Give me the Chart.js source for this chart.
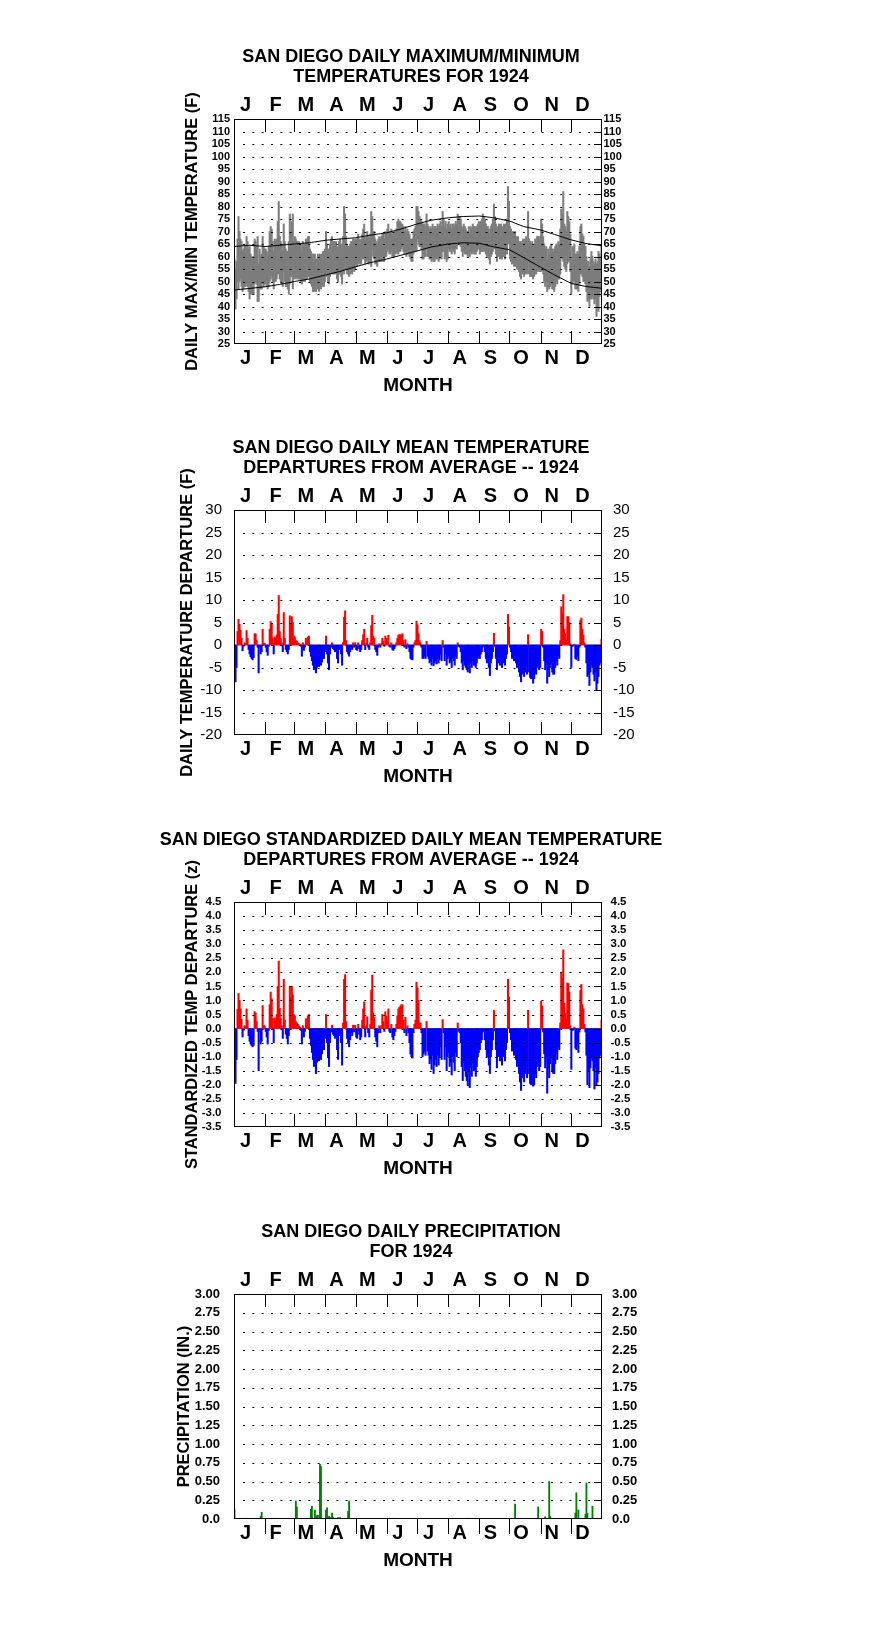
<!DOCTYPE html>
<html>
<head>
<meta charset="utf-8">
<title>San Diego 1924</title>
<script src="https://cdn.jsdelivr.net/npm/chart.js@4.4.1/dist/chart.umd.min.js"></script>
<style>
  body { margin: 0; background: #fff; }
  #wrap { position: relative; width: 876px; height: 1634px; }
  canvas { position: absolute; left: 0; }
</style>
</head>
<body>
<div id="wrap">
  <canvas id="c1" width="822" height="392" style="top:34px"></canvas>
  <canvas id="c2" width="822" height="392" style="top:425px"></canvas>
  <canvas id="c3" width="822" height="392" style="top:817px"></canvas>
  <canvas id="c4" width="822" height="392" style="top:1209px"></canvas>
</div>
<script>
var FONT = "'Liberation Sans', Arial, Helvetica, sans-serif";
Chart.defaults.font.family = FONT;
Chart.defaults.color = '#000';

var months = ['J', 'F', 'M', 'A', 'M', 'J', 'J', 'A', 'S', 'O', 'N', 'D'];
var monthDays = [31, 29, 31, 30, 31, 30, 31, 31, 30, 31, 30, 31];

// daily max / min (F), one row per month
var tmax = [
  59,55,58,67,76,70,67,66,62,63,64,64,68,66,63,64,61,60,59,60,67,66,64,68,57,63,60,61,68,64,63,
  63,62,61,64,70,72,71,66,62,67,66,67,74,82,68,66,65,62,73,66,63,62,62,66,77,70,74,77,66,
  68,67,66,66,66,65,65,62,66,64,65,67,66,68,68,63,62,61,61,59,61,58,59,61,60,61,60,61,62,62,63,
  70,65,63,61,65,67,68,66,66,65,66,64,63,66,67,65,63,68,80,77,68,65,64,64,65,66,66,67,66,67,
  67,67,69,67,66,67,69,71,73,67,68,70,68,67,69,78,76,70,70,67,66,65,67,68,67,68,69,69,67,70,69,
  71,73,70,70,71,69,69,70,70,71,74,75,74,74,73,73,72,70,72,70,71,70,69,67,67,67,70,71,72,80,
  80,78,76,75,74,73,73,73,72,77,73,72,71,72,71,73,71,72,72,71,73,72,73,74,72,78,75,72,74,71,73,
  74,72,73,71,73,73,72,74,73,77,76,76,75,72,71,73,72,71,70,70,72,69,72,71,73,72,72,71,72,73,74,
  73,74,75,77,76,75,73,72,72,71,69,72,73,75,81,76,73,71,72,73,72,73,71,72,73,72,73,75,88,82,
  72,71,69,70,69,70,68,67,68,66,66,65,66,67,66,67,68,66,78,67,66,65,66,64,65,67,66,68,68,67,68,
  75,73,68,65,63,64,59,63,61,64,65,63,62,63,64,65,64,66,65,71,79,77,86,73,72,70,78,76,74,69,
  59,64,64,65,61,61,62,61,64,72,73,69,68,65,64,60,58,58,56,59,62,60,58,57,59,57,58,62,61,60,65
];
var tmin = [
  44,39,43,50,47,50,51,48,46,47,48,48,49,48,46,43,45,45,45,45,49,50,49,42,42,47,47,47,50,48,49,
  49,48,47,48,50,51,52,50,47,50,50,51,53,53,51,50,49,48,54,50,48,48,47,45,49,52,52,47,51,
  52,51,52,51,51,51,50,49,51,50,50,52,51,52,52,50,49,48,46,46,47,46,47,48,46,49,47,48,49,48,50,
  55,52,50,49,52,53,54,53,53,53,54,51,50,53,53,52,49,54,53,59,55,53,53,52,53,54,53,55,54,55,
  57,56,58,57,57,57,59,59,60,57,58,59,57,57,58,56,63,60,59,57,57,56,58,58,58,58,60,58,58,60,60,
  62,63,61,61,62,60,60,60,61,62,61,61,62,62,63,64,62,61,62,60,61,61,60,59,58,58,61,62,62,62,
  67,65,64,64,63,59,59,60,60,63,60,60,59,59,58,59,58,58,59,59,59,58,59,60,59,62,62,59,60,58,59,
  63,62,62,61,63,62,61,63,63,66,65,65,64,62,60,62,61,61,61,60,61,60,62,61,62,61,61,61,62,63,63,
  61,62,62,62,63,62,61,60,61,59,57,60,61,62,64,63,61,58,60,60,59,61,59,60,60,59,61,61,65,66,
  59,58,57,58,56,57,56,55,55,54,52,51,53,54,52,53,55,53,58,53,52,52,52,51,52,53,53,54,55,54,54,
  54,55,53,50,48,50,46,48,47,48,49,47,47,46,48,50,49,51,51,53,60,59,58,56,55,54,57,58,58,54,
  45,49,50,50,47,47,47,46,49,53,53,52,50,50,49,46,42,43,40,43,43,44,43,41,43,36,39,38,44,46,52
];

// normal max / min curves, read at these days of the year
var normDays = [0, 15, 31, 45, 60, 75, 91, 105, 121, 135, 152, 166, 182, 196, 213, 228, 244, 258, 274, 288, 305, 319, 335, 350, 366];
var normMax = [64, 64.5, 64, 64.5, 65, 65.5, 66.5, 67, 67.5, 68.5, 69.5, 71, 73, 74.5, 75.5, 76, 76.2, 75.5, 74.2, 72, 70.6, 68.8, 66.7, 65.2, 64.3];
var normMin = [46.6, 47.2, 47.9, 48.8, 50, 51, 52.6, 54, 55.9, 57.5, 59, 60.5, 62.2, 63.8, 65, 65.5, 65.3, 63.9, 62.7, 59.6, 55.7, 52.6, 49.3, 48, 47.3];

// daily mean departure (F)
var departure = [
  -4.0,-8.2,-5.0,3.0,5.7,4.6,3.3,1.5,-1.3,-0.3,0.5,0.3,3.2,1.5,-1.0,-2.0,-2.6,-3.0,-3.3,-2.8,2.5,2.5,1.0,-0.5,-6.2,-0.5,-2.0,-1.5,3.5,0.4,0.4,
  -0.5,-1.5,-2.3,-0.3,3.5,5.2,4.8,1.5,-2.0,1.8,1.5,2.2,6.8,11.0,3.0,1.5,0.5,-1.5,7.2,1.5,-1.0,-1.5,-2.0,-1.0,6.5,4.5,6.3,5.0,2.0,
  1.8,1.0,0.8,0.5,0.3,0.2,-0.3,-2.5,0.5,-1.2,-0.5,1.5,0.3,1.8,2.0,-1.5,-2.5,-3.5,-4.5,-5.5,-4.0,-6.2,-5.0,-3.5,-4.8,-3.0,-4.5,-3.8,-2.5,-3.0,-1.5,
  2.0,-2.0,-4.0,-5.5,-2.0,-0.5,0.5,-0.8,-1.0,-1.5,-0.5,-3.0,-4.0,-1.0,-0.5,-2.0,-4.5,0.5,6.2,7.6,1.0,-1.5,-2.0,-2.5,-1.5,-0.5,-1.0,0.5,-0.5,0.5,
  -1.0,-1.2,0.5,-0.8,-1.5,-1.0,1.0,2.3,3.5,-1.0,0.3,1.5,-0.5,-1.0,0.5,4.3,6.6,2.0,1.5,-1.0,-1.5,-2.3,-0.5,0.3,-0.5,0.3,1.5,0.8,-0.3,2.0,1.5,
  0.8,2.2,-0.3,-0.5,0.5,-1.0,-1.2,-0.8,-0.3,0.5,1.5,2.2,2.3,2.3,2.2,2.5,1.0,-0.5,1.2,-0.8,0.3,-0.5,-1.5,-3.0,-3.2,-3.3,-0.5,0.5,1.0,5.3,
  4.5,2.5,1.0,0.5,-0.5,-3.0,-3.0,-2.5,-3.0,0.8,-2.5,-3.0,-4.0,-3.5,-4.5,-3.0,-4.6,-4.0,-3.5,-4.2,-3.0,-4.0,-3.2,-2.0,-3.5,1.0,-0.5,-3.5,-2.0,-4.5,-3.0,
  -2.5,-4.0,-3.5,-5.0,-3.0,-3.5,-4.5,-2.5,-3.0,0.5,-0.3,-0.5,-1.5,-4.0,-5.5,-3.5,-4.5,-5.0,-5.5,-6.0,-4.5,-6.2,-4.0,-5.0,-3.5,-4.5,-4.5,-5.0,-4.0,-3.0,-2.5,
  -3.0,-2.0,-1.5,-0.5,-0.3,-1.5,-3.0,-4.0,-3.5,-5.0,-6.8,-4.0,-3.0,-1.5,2.6,-0.3,-3.0,-5.5,-4.0,-3.5,-4.5,-3.0,-5.0,-4.0,-3.5,-4.5,-3.0,-2.0,6.8,4.0,
  -0.5,-1.5,-3.0,-2.0,-3.5,-2.5,-4.0,-5.0,-4.5,-6.0,-7.0,-8.2,-6.5,-5.5,-7.0,-6.0,-4.5,-6.5,2.3,-6.0,-7.2,-7.5,-7.0,-8.5,-7.5,-6.0,-6.5,-5.0,-4.5,-5.5,-5.0,
  3.5,3.0,-0.5,-3.5,-5.5,-4.0,-8.5,-5.5,-7.0,-5.0,-4.0,-6.0,-6.5,-6.5,-5.0,-3.5,-4.5,-2.5,-3.0,1.0,8.5,7.0,11.2,3.5,2.5,1.0,6.3,6.3,5.0,0.3,
  -5.0,-0.3,-0.2,0.2,-3.0,-3.2,-2.5,-3.5,-0.5,5.5,6.0,3.5,2.2,0.5,-0.5,-4.0,-7.0,-6.5,-9.0,-6.0,-4.5,-5.0,-6.5,-8.0,-6.0,-10.0,-8.5,-7.0,-4.5,-4.0,1.3
];

// standardized departure (z)
var zscore = [
  -1.05,-1.95,-1.1,0.68,1.25,1.0,0.7,0.33,-0.3,-0.07,0.1,0.07,0.7,0.3,-0.25,-0.45,-0.55,-0.6,-0.65,-0.6,0.6,0.55,0.25,-0.1,-1.5,-0.1,-0.55,-0.45,0.82,0.1,0.1,
  -0.1,-0.3,-0.55,-0.07,0.85,1.3,1.05,0.35,-0.5,0.38,0.3,0.5,1.5,2.4,0.72,0.35,0.1,-0.35,1.75,0.3,-0.2,-0.35,-0.55,-0.25,1.5,1.1,1.5,1.2,0.5,
  0.45,0.25,0.2,0.15,0.1,0.05,-0.07,-0.55,0.1,-0.3,-0.1,0.35,0.07,0.45,0.5,-0.35,-0.6,-0.85,-1.1,-1.35,-0.95,-1.6,-1.2,-0.85,-1.15,-0.75,-1.1,-0.9,-0.6,-0.75,-0.35,
  0.5,-0.5,-1.0,-1.35,-0.5,-0.12,0.12,-0.2,-0.25,-0.35,-0.12,-0.75,-1.1,-0.25,-0.12,-0.5,-1.3,0.2,1.75,1.92,0.25,-0.35,-0.5,-0.65,-0.4,-0.12,-0.25,0.12,-0.12,0.12,
  -0.3,-0.35,0.15,-0.2,-0.4,-0.3,0.3,0.7,0.95,-0.3,0.1,0.42,-0.15,-0.3,0.15,1.37,1.9,0.55,0.4,-0.3,-0.45,-0.65,-0.15,0.1,-0.15,0.1,0.5,0.25,-0.1,0.6,0.45,
  0.25,0.7,-0.1,-0.15,0.15,-0.3,-0.4,-0.25,-0.1,0.15,0.45,0.7,0.75,0.8,0.85,0.85,0.3,-0.15,0.4,-0.25,0.1,-0.15,-0.5,-0.9,-1.0,-1.05,-0.15,0.15,0.3,1.65,
  1.45,1.0,0.2,0.2,-0.15,-1.0,-0.9,-0.8,-0.95,0.25,-0.8,-0.95,-1.25,-1.1,-1.45,-0.95,-1.6,-1.3,-1.1,-1.35,-0.95,-1.3,-1.0,-0.65,-1.1,0.32,-0.15,-1.1,-0.65,-1.5,-1.0,
  -0.85,-1.35,-1.2,-1.65,-1.0,-1.2,-1.5,-0.85,-1.0,0.2,-0.1,-0.15,-0.5,-1.35,-1.85,-1.2,-1.5,-1.7,-1.85,-2.0,-1.5,-2.1,-1.35,-1.7,-1.2,-1.5,-1.5,-1.7,-1.35,-1.0,-0.85,
  -0.75,-0.5,-0.4,-0.12,-0.08,-0.4,-0.75,-1.0,-0.9,-1.3,-1.6,-1.0,-0.75,-0.4,0.65,-0.08,-0.75,-1.4,-1.0,-0.9,-1.15,-0.75,-1.3,-1.0,-0.9,-1.15,-0.75,-0.5,1.75,1.12,
  -0.15,-0.4,-0.8,-0.55,-0.95,-0.7,-1.1,-1.35,-1.2,-1.6,-1.9,-2.2,-1.75,-1.5,-1.9,-1.6,-1.2,-1.75,0.65,-1.6,-1.95,-2.0,-1.9,-2.05,-2.0,-1.6,-1.75,-1.35,-1.2,-1.5,-1.35,
  0.98,0.8,-0.12,-0.9,-1.4,-1.0,-2.3,-1.4,-1.75,-1.25,-1.0,-1.5,-1.6,-1.6,-1.25,-0.9,-1.1,-0.65,-0.75,0.2,2.0,1.8,2.8,0.9,0.55,0.3,1.62,1.6,1.3,0.1,
  -1.45,-0.07,-0.05,0.05,-0.7,-0.75,-0.6,-0.85,-0.12,1.35,1.57,0.85,0.7,0.15,-0.12,-0.95,-2.0,-1.5,-2.1,-1.4,-1.05,-1.15,-1.5,-2.15,-1.4,-2.0,-1.9,-1.6,-1.05,-0.95,0.3
];

// days with measurable rain (0 = Jan 1) and amount in inches
var rainDays = [0, 13, 26, 27, 39, 61, 62, 74, 76, 77, 80, 82, 83, 85, 86, 87, 91, 92, 94, 95, 97, 98, 103, 105, 113, 114, 118, 158, 182, 232, 234, 279, 283, 302, 309, 313, 314, 339, 340, 342, 349, 350, 351, 356, 364];
var rainInches = [0.13, 0.01, 0.035, 0.09, 0.01, 0.24, 0.16, 0.01, 0.13, 0.17, 0.12, 0.045, 0.05, 0.73, 0.70, 0.01, 0.12, 0.15, 0.035, 0.02, 0.08, 0.02, 0.02, 0.02, 0.10, 0.24, 0.01, 0.01, 0.01, 0.01, 0.01, 0.20, 0.01, 0.16, 0.03, 0.50, 0.035, 0.08, 0.35, 0.12, 0.06, 0.48, 0.075, 0.17, 0.01];

var monthMid = [];
var monthEdge = [];
var acc = 0;
monthDays.forEach(function (n) {
  monthMid.push(acc + n / 2 - 4);
  acc += n;
  monthEdge.push(acc);
});
monthEdge.pop();

function dayPoints(vals) {
  return vals.map(function (v, i) { return { x: i + 0.5, y: v }; });
}

// dotted grid (drawn over the marks), inner ticks, month marks and frame
var framePlugin = {
  id: 'frame',
  afterDatasetsDraw: function (chart, args, opts) {
    var a = chart.chartArea, xs = chart.scales.x, ys = chart.scales.y, c = chart.ctx;
    var levels = ys.ticks.filter(function (t) {
      return t.value > ys.min + 1e-9 && t.value < ys.max - 1e-9;
    }).map(function (t) {
      return Math.round(ys.getPixelForValue(t.value)) + 0.5;
    });
    c.save();
    c.strokeStyle = '#000';
    c.lineWidth = 1;
    c.setLineDash([2, 7.33]);
    levels.forEach(function (py) {
      c.beginPath();
      c.moveTo(a.left + 9, py);
      c.lineTo(a.right - 9, py);
      c.stroke();
    });
    c.setLineDash([]);
    c.beginPath();
    levels.forEach(function (py) {
      c.moveTo(a.right - 8, py);
      c.lineTo(a.right, py);
    });
    monthEdge.forEach(function (d) {
      var px = Math.round(xs.getPixelForValue(d)) + 0.5;
      c.moveTo(px, a.top);
      c.lineTo(px, a.top + 13);
      if (opts.bottomOut) {
        c.moveTo(px, a.bottom);
        c.lineTo(px, a.bottom + 15);
      } else {
        c.moveTo(px, a.bottom);
        c.lineTo(px, a.bottom - 13);
      }
    });
    c.stroke();
    c.strokeRect(a.left + 0.5, a.top + 0.5, a.right - a.left - 1, a.bottom - a.top - 1);
    c.restore();
  }
};

function monthAxis(pos, h) {
  return {
    type: 'linear', position: pos, min: 0, max: 366, offset: false,
    grid: { display: false, drawTicks: false, offset: false },
    border: { display: false },
    afterBuildTicks: function (s) {
      s.ticks = monthMid.map(function (v) { return { value: v }; });
    },
    ticks: {
      autoSkip: false, maxRotation: 0, padding: 2, color: '#000',
      font: { size: 20, weight: 'bold' },
      callback: function (v, i) { return months[i]; }
    },
    title: pos === 'bottom'
      ? { display: true, text: 'MONTH', color: '#000', font: { size: 19, weight: 'bold' }, padding: { top: 0, bottom: 28.6 } }
      : { display: false },
    afterFit: function (s) { s.height = h; }
  };
}

function valueAxis(pos, p) {
  return {
    type: 'linear', position: pos, display: true, min: p.min, max: p.max,
    grid: { display: false, drawTicks: false },
    border: { display: false },
    ticks: {
      stepSize: p.step, autoSkip: false, maxTicksLimit: 100,
      padding: pos === 'left' ? p.padL : p.padR,
      color: '#000', font: p.tickFont, callback: p.fmt
    },
    title: pos === 'left'
      ? { display: true, text: p.yTitle, color: '#000', font: { size: 16.5, weight: 'bold' }, padding: { top: p.titleX - 9.9, bottom: 0 } }
      : { display: false },
    afterFit: function (s) { s.width = pos === 'left' ? 234 : 220; }
  };
}

function panel(id, p) {
  return new Chart(document.getElementById(id), {
    type: 'bar',
    data: { datasets: p.datasets },
    options: {
      responsive: false,
      animation: false,
      events: [],
      layout: { padding: 0 },
      plugins: {
        legend: { display: false },
        tooltip: { enabled: false },
        title: {
          display: true, text: p.title, color: '#000',
          font: { size: 18, weight: 'bold', lineHeight: '20px' },
          padding: { top: 13.5, bottom: 0 }
        },
        frame: { bottomOut: !!p.bottomOut }
      },
      scales: {
        x: monthAxis('bottom', 82),
        xTop: monthAxis('top', 31.5),
        y: valueAxis('left', p),
        yRight: valueAxis('right', p)
      }
    },
    plugins: [framePlugin]
  });
}

function signColor(ctx) {
  return ctx.raw && ctx.raw.y < 0 ? '#0000ff' : '#ff0000';
}

panel('c1', {
  title: ['SAN DIEGO DAILY MAXIMUM/MINIMUM', 'TEMPERATURES FOR 1924'],
  yTitle: 'DAILY MAX/MIN TEMPERATURE (F)', titleX: 192,
  min: 25, max: 115, step: 5, padL: 4, padR: 1.5,
  tickFont: { size: 11, weight: 'bold' },
  fmt: function (v) { return String(v); },
  datasets: [
    {
      type: 'line', label: 'Normal max', order: 0,
      data: normDays.map(function (d, i) { return { x: d, y: normMax[i] }; }),
      borderColor: '#000', borderWidth: 1, pointRadius: 0, fill: false, tension: 0
    },
    {
      type: 'line', label: 'Normal min', order: 0,
      data: normDays.map(function (d, i) { return { x: d, y: normMin[i] }; }),
      borderColor: '#000', borderWidth: 1, pointRadius: 0, fill: false, tension: 0
    },
    {
      label: 'Daily range', order: 1,
      data: tmin.map(function (v, i) { return { x: i + 0.5, y: [v, tmax[i]] }; }),
      backgroundColor: '#7d7d7d', barThickness: 1.4
    }
  ]
});

panel('c2', {
  title: ['SAN DIEGO DAILY MEAN TEMPERATURE', 'DEPARTURES FROM AVERAGE -- 1924'],
  yTitle: 'DAILY TEMPERATURE DEPARTURE (F)', titleX: 187,
  min: -20, max: 30, step: 5, padL: 12, padR: 11,
  tickFont: { size: 15, weight: 'normal' },
  fmt: function (v) { return String(v); },
  datasets: [{
    label: 'Departure', data: dayPoints(departure),
    backgroundColor: signColor, barThickness: 1.4
  }]
});

panel('c3', {
  title: ['SAN DIEGO STANDARDIZED DAILY MEAN TEMPERATURE', 'DEPARTURES FROM AVERAGE -- 1924'],
  yTitle: 'STANDARDIZED TEMP DEPARTURE (z)', titleX: 192.5,
  min: -3.5, max: 4.5, step: 0.5, padL: 12.5, padR: 8.5,
  tickFont: { size: 11.5, weight: 'bold' },
  fmt: function (v) { return v.toFixed(1); },
  datasets: [{
    label: 'Standardized departure', data: dayPoints(zscore),
    backgroundColor: signColor, barThickness: 1.4
  }]
});

panel('c4', {
  title: ['SAN DIEGO DAILY PRECIPITATION', 'FOR 1924'],
  yTitle: 'PRECIPITATION (IN.)', titleX: 184,
  min: 0, max: 3, step: 0.25, padL: 14, padR: 10,
  tickFont: { size: 13, weight: 'bold' },
  fmt: function (v) { return v === 0 ? '0.0' : v.toFixed(2); },
  bottomOut: true,
  datasets: [{
    label: 'Precipitation',
    data: rainDays.map(function (d, i) { return { x: d + 0.5, y: rainInches[i] }; }),
    backgroundColor: '#008000', barThickness: 1.2
  }]
});
</script>
</body>
</html>
